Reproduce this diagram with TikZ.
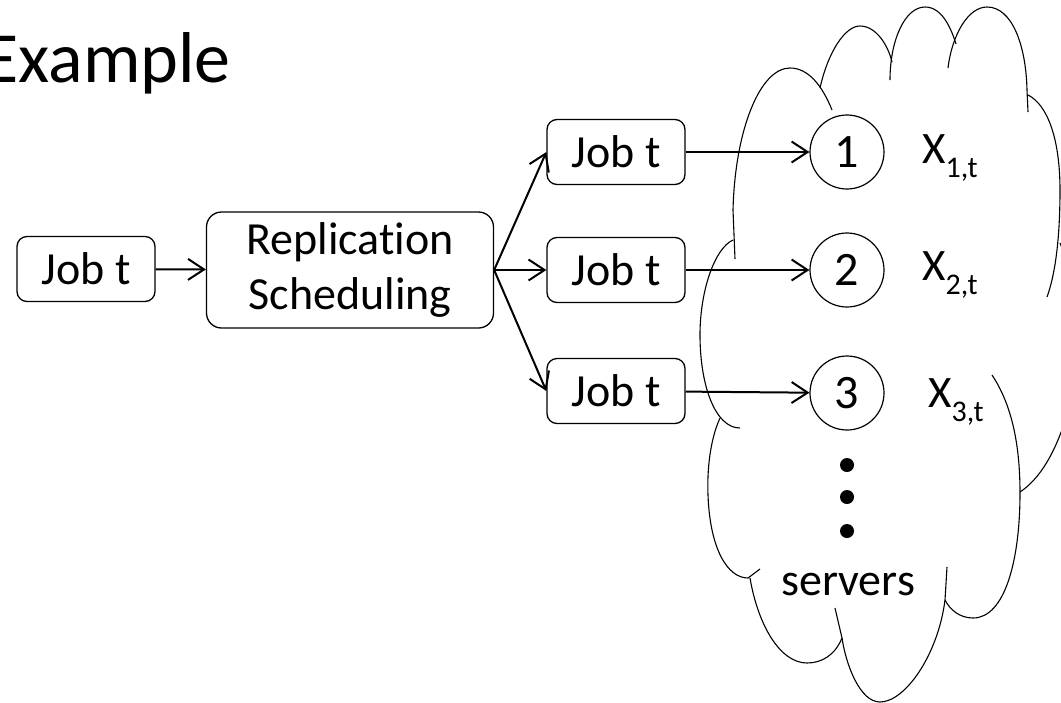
\documentclass[tikz,border=0pt]{standalone}
\usepackage{fontspec}
\setmainfont{Carlito}[Ligatures=NoCommon]
\usetikzlibrary{arrows.meta}

\newcommand{\xsub}[1]{X\raisebox{-14pt}{\fontsize{30}{30}\selectfont #1,t}}

\begin{document}
\begin{tikzpicture} [x = 1pt, y = -1pt,
    jobbox/.style = {draw, line width=1.3pt, rounded corners=10pt, minimum width=138pt, minimum height=65pt, inner sep=0pt},
    server/.style = {draw, circle, line width=1.2pt, minimum size=74pt, inner sep=0pt, font=\fontsize{48}{50}\selectfont},
    dot/.style = {circle, fill, minimum size=14pt, inner sep=0pt},
    arr/.style = {line width=2pt, -{Straight Barb[length=16pt, width=21pt]}},
    cloudline/.style = {line width=1.1pt},
    every node/.style = {font=\fontsize{46}{55}\selectfont}]
      \useasboundingbox (0,0) rectangle (1061,702);

      % タイトル
      \node (title) [anchor=base east, inner sep=0pt, font=\fontsize{72}{80}\selectfont] at (231,82) {Example};

      % ジョブとスケジューラ
      \node (job) [jobbox] at (86,269) {Job t};
      \node (rep) [jobbox, minimum width=287pt, minimum height=116pt, rounded corners=15pt, align=center] at (350,270) {Replication\\Scheduling};
      \node (job1) [jobbox] at (616,152) {Job t};
      \node (job2) [jobbox] at (616,270) {Job t};
      \node (job3) [jobbox] at (616,391) {Job t};

      % サーバ
      \node (s1) [server] at (847,152) {1};
      \node (s2) [server] at (847,270) {2};
      \node (s3) [server] at (847,393) {3};
      \node (x1) [anchor=base west, inner sep=0pt, font=\fontsize{45}{46}\selectfont] at (922,163) {\xsub{1}};
      \node (x2) [anchor=base west, inner sep=0pt, font=\fontsize{45}{46}\selectfont] at (922,280) {\xsub{2}};
      \node (x3) [anchor=base west, inner sep=0pt, font=\fontsize{45}{46}\selectfont] at (928,407) {\xsub{3}};
      \node (d1) [dot] at (847,465) {};
      \node (d2) [dot] at (847,497) {};
      \node (d3) [dot] at (847,531) {};
      \node (servers) [anchor=base] at (848,595) {servers};

      % 矢印
      \draw [arr] (job) -- (rep);
      \draw [arr] (rep.east) -- (job1.west);
      \draw [arr] (rep.east) -- (job2.west);
      \draw [arr] (rep.east) -- (job3.west);
      \draw [arr] (job1) -- (s1);
      \draw [arr] (job2) -- (s2);
      \draw [arr] (job3) -- (s3);

      % 雲
      \draw [cloudline] (832,110) .. controls (822,85) and (808,68) .. (790,68) .. controls (760,68) and (735,130) .. (733,210) -- (735,259);
      \draw [cloudline] (820,88) .. controls (828,52) and (845,26) .. (860,26) .. controls (876,26) and (888,45) .. (892,62);
      \draw [cloudline] (890,80) .. controls (890,40) and (905,7) .. (925,7) .. controls (942,7) and (951,28) .. (956,44);
      \draw [cloudline] (948,68) .. controls (952,35) and (968,7) .. (987,7) .. controls (1012,7) and (1026,45) .. (1027,90) -- (1028,112);
      \draw [cloudline] (1028,95) .. controls (1048,105) and (1060,140) .. (1060,190) .. controls (1060,240) and (1055,275) .. (1047,297);
      \draw [cloudline] (1060,243) .. controls (1062,248) .. (1066,258);
      \draw [cloudline] (992,375) .. controls (1012,405) and (1020,445) .. (1020,493) .. controls (1020,560) and (1005,618) .. (973,618) .. controls (960,618) and (950,610) .. (945,600);
      \draw [cloudline] (1020,492) .. controls (1035,482) and (1052,462) .. (1066,418);
      \draw [cloudline] (947,567) -- (945,600) .. controls (938,655) and (905,702) .. (880,702) .. controls (860,702) and (846,665) .. (842,638) -- (835,608);
      \draw [cloudline] (842,638) .. controls (835,655) and (822,663) .. (807,663) .. controls (780,663) and (758,625) .. (750,578);
      \draw [cloudline] (720,418) .. controls (710,440) and (707,470) .. (708,495) .. controls (710,550) and (728,578) .. (748,578) -- (760,569);
      \draw [cloudline] (733,240) .. controls (715,248) and (700,290) .. (700,335) .. controls (700,385) and (715,428) .. (740,428);
    \end{tikzpicture}
\end{document}
